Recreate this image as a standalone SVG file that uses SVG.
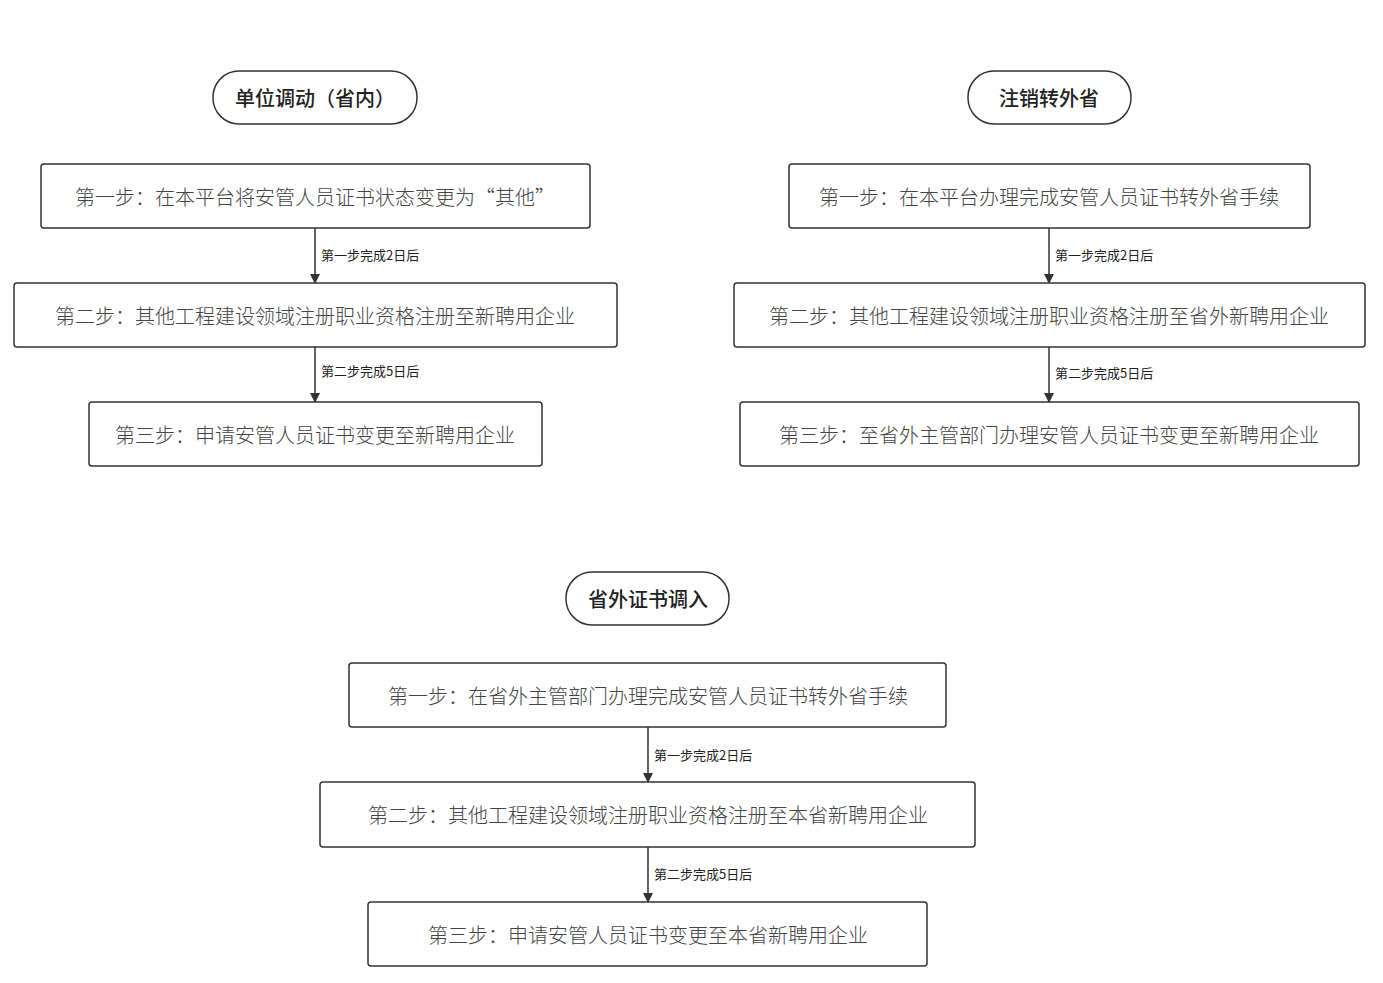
<svg xmlns="http://www.w3.org/2000/svg" width="1383" height="983" viewBox="0 0 1383 983">
<defs>
<marker id="ah" markerWidth="10" markerHeight="10" refX="9" refY="5" orient="auto" markerUnits="userSpaceOnUse"><path d="M0,0 L10,5 L0,10 Z" fill="#333"/></marker>
<style>
.b{fill:#fff;stroke:#333;stroke-width:1.5}
.t{font-family:"Noto Sans CJK SC",sans-serif;font-size:20px;fill:#444;text-anchor:middle;dominant-baseline:central;font-weight:300}
.h{font-family:"Noto Sans CJK SC",sans-serif;font-size:20px;fill:#222;text-anchor:middle;dominant-baseline:central;font-weight:500}
.l{font-family:"Noto Sans CJK SC",sans-serif;font-size:13px;fill:#222;dominant-baseline:central}
.c{stroke:#333;stroke-width:1.5;fill:none;marker-end:url(#ah)}
</style>
</defs>
<rect width="1383" height="983" fill="#fff"/>
<g id="connectors">
<line class="c" x1="315" y1="228" x2="315" y2="283"/>
<line class="c" x1="315" y1="347" x2="315" y2="402"/>
<line class="c" x1="1049" y1="228" x2="1049" y2="283"/>
<line class="c" x1="1049" y1="347" x2="1049" y2="402"/>
<line class="c" x1="648" y1="727" x2="648" y2="782"/>
<line class="c" x1="648" y1="847" x2="648" y2="902"/>
<text class="l" x="321" y="254">第一步完成2日后</text>
<text class="l" x="321" y="370">第二步完成5日后</text>
<text class="l" x="1055" y="254">第一步完成2日后</text>
<text class="l" x="1055" y="372">第二步完成5日后</text>
<text class="l" x="654" y="754">第一步完成2日后</text>
<text class="l" x="654" y="873">第二步完成5日后</text>
</g>
<g id="t1"><rect class="b" x="213" y="71" width="204" height="53" rx="26"/><text class="h" x="315" y="97">单位调动（省内）</text></g>
<g id="a1"><rect class="b" x="41" y="164" width="549" height="64" rx="3"/><text class="t" x="315" y="196">第一步：在本平台将安管人员证书状态变更为“其他”</text></g>
<g id="a2"><rect class="b" x="14" y="283" width="603" height="64" rx="3"/><text class="t" x="315" y="315">第二步：其他工程建设领域注册职业资格注册至新聘用企业</text></g>
<g id="a3"><rect class="b" x="89" y="402" width="453" height="64" rx="3"/><text class="t" x="315" y="434">第三步：申请安管人员证书变更至新聘用企业</text></g>
<g id="t2"><rect class="b" x="968" y="71" width="163" height="53" rx="26"/><text class="h" x="1049" y="97">注销转外省</text></g>
<g id="b1"><rect class="b" x="789" y="164" width="521" height="64" rx="3"/><text class="t" x="1049" y="196">第一步：在本平台办理完成安管人员证书转外省手续</text></g>
<g id="b2"><rect class="b" x="734" y="283" width="631" height="64" rx="3"/><text class="t" x="1049" y="315">第二步：其他工程建设领域注册职业资格注册至省外新聘用企业</text></g>
<g id="b3"><rect class="b" x="740" y="402" width="619" height="64" rx="3"/><text class="t" x="1049" y="434">第三步：至省外主管部门办理安管人员证书变更至新聘用企业</text></g>
<g id="t3"><rect class="b" x="566" y="572" width="163" height="53" rx="26"/><text class="h" x="648" y="598">省外证书调入</text></g>
<g id="c1"><rect class="b" x="349" y="663" width="597" height="64" rx="3"/><text class="t" x="648" y="695">第一步：在省外主管部门办理完成安管人员证书转外省手续</text></g>
<g id="c2"><rect class="b" x="320" y="782" width="655" height="65" rx="3"/><text class="t" x="648" y="814">第二步：其他工程建设领域注册职业资格注册至本省新聘用企业</text></g>
<g id="c3"><rect class="b" x="368" y="902" width="559" height="64" rx="3"/><text class="t" x="648" y="934">第三步：申请安管人员证书变更至本省新聘用企业</text></g>
</svg>
